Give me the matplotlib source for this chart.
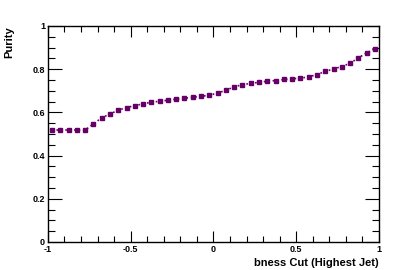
import numpy as np
import matplotlib
matplotlib.use("Agg")
import matplotlib.pyplot as plt
from matplotlib.ticker import MultipleLocator

# bin centres of the bness cut and the purity in each bin
cut = np.arange(-0.975, 1.0, 0.05)
purity = [0.518, 0.518, 0.518, 0.518, 0.518, 0.546, 0.575, 0.592, 0.610, 0.622,
          0.631, 0.639, 0.647, 0.651, 0.656, 0.661, 0.665, 0.670, 0.674, 0.679,
          0.689, 0.702, 0.718, 0.728, 0.734, 0.739, 0.744, 0.747, 0.752, 0.755,
          0.758, 0.764, 0.775, 0.789, 0.801, 0.812, 0.827, 0.852, 0.875, 0.894]
xticks = [-1, -0.5, 0, 0.5, 1]
xlabels = ['-1', '-0.5', '0', '0.5', '1']
yticks = [0, 0.2, 0.4, 0.6, 0.8, 1]
ylabels = ['0', '0.2', '0.4', '0.6', '0.8', '1']

plt.rcParams['font.family'] = ['Liberation Sans', 'DejaVu Sans']

fig = plt.figure(figsize=(3.99, 2.70), dpi=100)
ax = fig.add_axes([0.12, 0.104, 0.83, 0.8])

ax.plot(cut, purity, color='#660066', ls=':', lw=1.2, marker='s', ms=3.5,
        mec='#660066', mfc='#660066')

ax.set_xlim(-1, 1)
ax.set_ylim(0, 1)
ax.set_xticks(xticks)
ax.set_xticklabels(xlabels)
ax.set_yticks(yticks)
ax.set_yticklabels(ylabels)
ax.xaxis.set_minor_locator(MultipleLocator(0.1))
ax.yaxis.set_minor_locator(MultipleLocator(0.05))

ax.tick_params(which='both', direction='in', top=True, right=True,
               labelsize=6.5, width=0.8, pad=2)
ax.tick_params(axis='x', which='major', length=8)
ax.tick_params(axis='x', which='minor', length=4)
ax.tick_params(axis='y', which='major', length=10)
ax.tick_params(axis='y', which='minor', length=5)
for s in ax.spines.values():
    s.set_linewidth(1.0)
for lab in ax.get_xticklabels() + ax.get_yticklabels():
    lab.set_fontweight('bold')

ax.set_xlabel('bness Cut (Highest Jet)', fontsize=8, fontweight='bold', loc='right', labelpad=3)
ax.set_ylabel('Purity', fontsize=8, fontweight='bold', loc='top', labelpad=13)

fig.savefig('out.png', dpi=100)
